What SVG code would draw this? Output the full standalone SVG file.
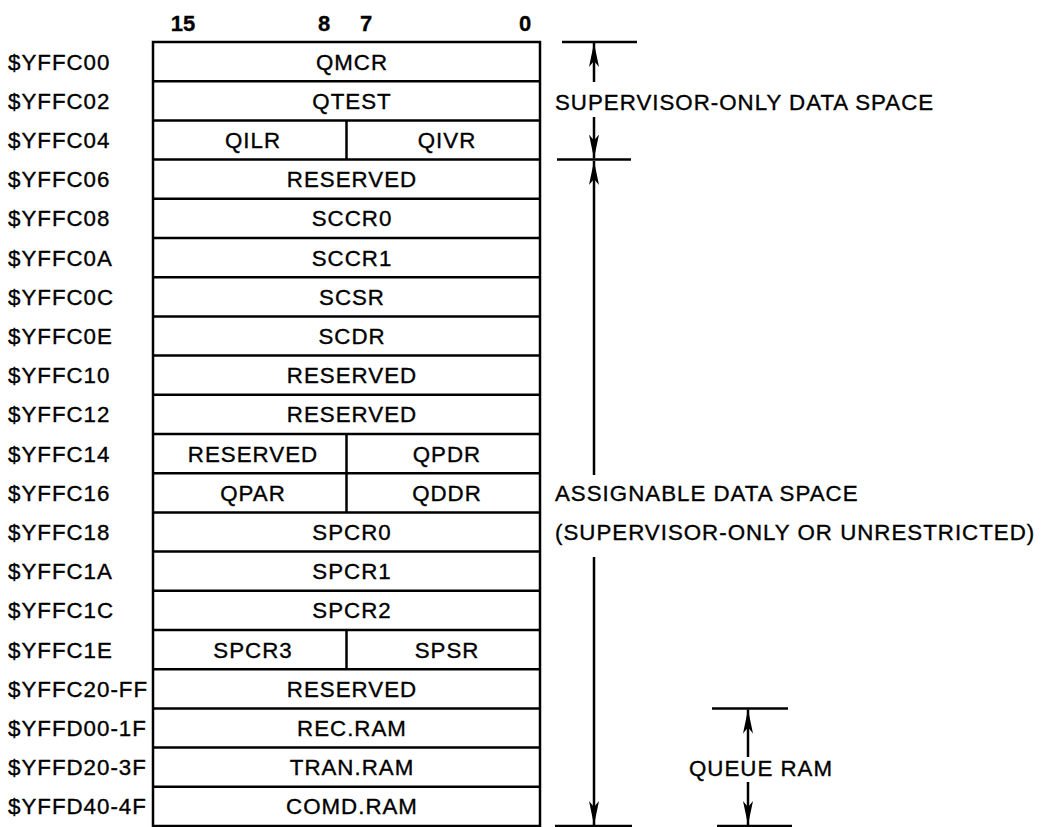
<svg xmlns="http://www.w3.org/2000/svg" width="1048" height="827" viewBox="0 0 1048 827">
<style>
text{font-family:"Liberation Sans",Arial,sans-serif;font-size:22.3px;letter-spacing:1px;fill:#000;stroke:#000;stroke-width:0.35}
.h{font-weight:bold;font-size:22px;letter-spacing:0;stroke-width:0.3;text-anchor:middle}
.c{text-anchor:middle}
.box{fill:#fff;stroke:#000;stroke-width:2.5}
.div{stroke:#000;stroke-width:2.5}
.ln{stroke:#000;stroke-width:2.5;fill:none}
</style>
<defs>
<marker id="ah" viewBox="-24 -6 26 12" refX="0" refY="0" markerWidth="26" markerHeight="12" markerUnits="userSpaceOnUse" orient="auto">
<path d="M0,0 L-24,-5 L-18,0 L-24,5 Z" fill="#000"/>
</marker>
</defs>
<g id="header">
<text class="h" x="183" y="30.5">15</text>
<text class="h" x="324" y="30.5">8</text>
<text class="h" x="366" y="30.5">7</text>
<text class="h" x="525" y="30.5">0</text>
</g>
<g id="addresses">
<text x="8" y="69.6">$YFFC00</text>
<text x="8" y="108.8">$YFFC02</text>
<text x="8" y="148">$YFFC04</text>
<text x="8" y="187.2">$YFFC06</text>
<text x="8" y="226.4">$YFFC08</text>
<text x="8" y="265.6">$YFFC0A</text>
<text x="8" y="304.8">$YFFC0C</text>
<text x="8" y="344">$YFFC0E</text>
<text x="8" y="383.2">$YFFC10</text>
<text x="8" y="422.4">$YFFC12</text>
<text x="8" y="461.6">$YFFC14</text>
<text x="8" y="500.8">$YFFC16</text>
<text x="8" y="540">$YFFC18</text>
<text x="8" y="579.2">$YFFC1A</text>
<text x="8" y="618.4">$YFFC1C</text>
<text x="8" y="657.6">$YFFC1E</text>
<text x="8" y="696.8">$YFFC20-FF</text>
<text x="8" y="736">$YFFD00-1F</text>
<text x="8" y="775.2">$YFFD20-3F</text>
<text x="8" y="814.4">$YFFD40-4F</text>
</g>
<g id="table">
<rect class="box" x="153" y="42" width="387" height="784"/>
<g id="rowlines">
<line class="div" x1="153" y1="81.2" x2="540" y2="81.2"/>
<line class="div" x1="153" y1="120.4" x2="540" y2="120.4"/>
<line class="div" x1="153" y1="159.6" x2="540" y2="159.6"/>
<line class="div" x1="153" y1="198.8" x2="540" y2="198.8"/>
<line class="div" x1="153" y1="238" x2="540" y2="238"/>
<line class="div" x1="153" y1="277.2" x2="540" y2="277.2"/>
<line class="div" x1="153" y1="316.4" x2="540" y2="316.4"/>
<line class="div" x1="153" y1="355.6" x2="540" y2="355.6"/>
<line class="div" x1="153" y1="394.8" x2="540" y2="394.8"/>
<line class="div" x1="153" y1="434" x2="540" y2="434"/>
<line class="div" x1="153" y1="473.2" x2="540" y2="473.2"/>
<line class="div" x1="153" y1="512.4" x2="540" y2="512.4"/>
<line class="div" x1="153" y1="551.6" x2="540" y2="551.6"/>
<line class="div" x1="153" y1="590.8" x2="540" y2="590.8"/>
<line class="div" x1="153" y1="630" x2="540" y2="630"/>
<line class="div" x1="153" y1="669.2" x2="540" y2="669.2"/>
<line class="div" x1="153" y1="708.4" x2="540" y2="708.4"/>
<line class="div" x1="153" y1="747.6" x2="540" y2="747.6"/>
<line class="div" x1="153" y1="786.8" x2="540" y2="786.8"/>
<line class="div" x1="346.5" y1="120.4" x2="346.5" y2="159.6"/>
<line class="div" x1="346.5" y1="434" x2="346.5" y2="512.4"/>
<line class="div" x1="346.5" y1="630" x2="346.5" y2="669.2"/>
</g>
<g id="r00"><text class="c" x="352" y="69.6">QMCR</text></g>
<g id="r02"><text class="c" x="352" y="108.8">QTEST</text></g>
<g id="r04"><text class="c" x="253" y="148">QILR</text><text class="c" x="447" y="148">QIVR</text></g>
<g id="r06"><text class="c" x="352" y="187.2">RESERVED</text></g>
<g id="r08"><text class="c" x="352" y="226.4">SCCR0</text></g>
<g id="r0a"><text class="c" x="352" y="265.6">SCCR1</text></g>
<g id="r0c"><text class="c" x="352" y="304.8">SCSR</text></g>
<g id="r0e"><text class="c" x="352" y="344">SCDR</text></g>
<g id="r10"><text class="c" x="352" y="383.2">RESERVED</text></g>
<g id="r12"><text class="c" x="352" y="422.4">RESERVED</text></g>
<g id="r14"><text class="c" x="253" y="461.6">RESERVED</text><text class="c" x="447" y="461.6">QPDR</text></g>
<g id="r16"><text class="c" x="253" y="500.8">QPAR</text><text class="c" x="447" y="500.8">QDDR</text></g>
<g id="r18"><text class="c" x="352" y="540">SPCR0</text></g>
<g id="r1a"><text class="c" x="352" y="579.2">SPCR1</text></g>
<g id="r1c"><text class="c" x="352" y="618.4">SPCR2</text></g>
<g id="r1e"><text class="c" x="253" y="657.6">SPCR3</text><text class="c" x="447" y="657.6">SPSR</text></g>
<g id="r20"><text class="c" x="352" y="696.8">RESERVED</text></g>
<g id="rd00"><text class="c" x="352" y="736">REC.RAM</text></g>
<g id="rd20"><text class="c" x="352" y="775.2">TRAN.RAM</text></g>
<g id="rd40"><text class="c" x="352" y="814.4">COMD.RAM</text></g>
</g>
<g id="connectors">
<line class="ln" x1="562" y1="42" x2="637" y2="42"/>
<line class="ln" x1="557" y1="159.6" x2="631" y2="159.6"/>
<line class="ln" x1="555" y1="826" x2="632" y2="826"/>
<line class="ln" x1="712" y1="708.4" x2="788" y2="708.4"/>
<line class="ln" x1="717" y1="826" x2="792" y2="826"/>
<line class="ln" x1="594" y1="82" x2="594" y2="43" marker-end="url(#ah)"/>
<line class="ln" x1="594" y1="117" x2="594" y2="158.5" marker-end="url(#ah)"/>
<line class="ln" x1="594" y1="475" x2="594" y2="161" marker-end="url(#ah)"/>
<line class="ln" x1="594" y1="557" x2="594" y2="825" marker-end="url(#ah)"/>
<line class="ln" x1="748" y1="757" x2="748" y2="709.5" marker-end="url(#ah)"/>
<line class="ln" x1="748" y1="782" x2="748" y2="825" marker-end="url(#ah)"/>
</g>
<g id="labels">
<text x="555" y="109.5">SUPERVISOR-ONLY DATA SPACE</text>
<text x="555" y="500.8">ASSIGNABLE DATA SPACE</text>
<text x="555" y="540">(SUPERVISOR-ONLY OR UNRESTRICTED)</text>
<text class="c" x="761" y="775.6">QUEUE RAM</text>
</g>
</svg>
